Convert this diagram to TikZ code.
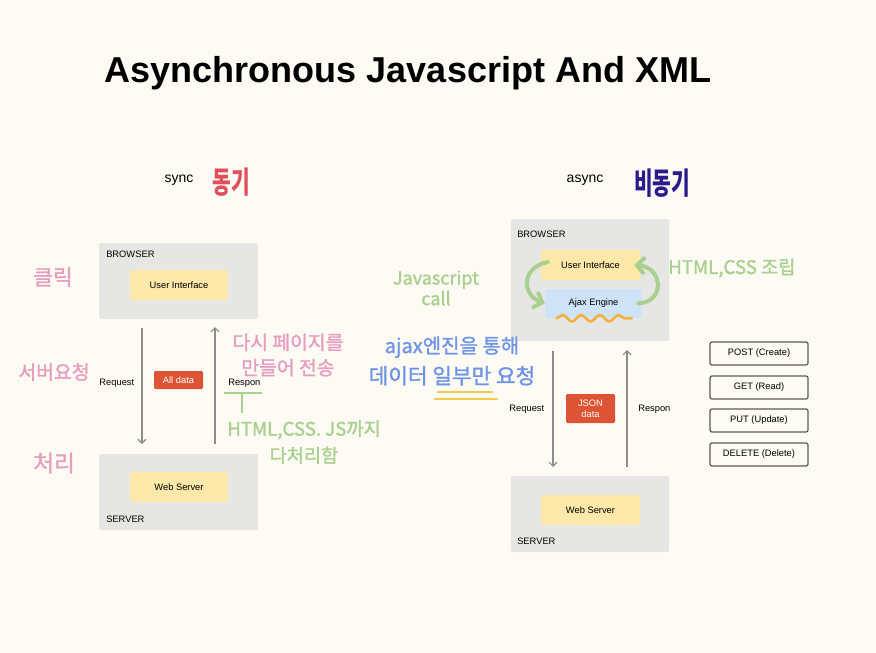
\documentclass[tikz,border=0pt]{standalone}
\usepackage{fontspec}
\setmainfont{Liberation Sans}
\newfontfamily\kr[FakeBold=1.3]{Noto Sans CJK KR}
\newfontfamily\krb{Noto Sans CJK KR}
\usetikzlibrary{arrows.meta,decorations.pathmorphing,calc}
\definecolor{bg}{HTML}{FDFBF3}
\definecolor{boxgray}{HTML}{E6E6E5}
\definecolor{uiyellow}{HTML}{FCE8A8}
\definecolor{ajaxblue}{HTML}{CFE3F7}
\definecolor{datared}{HTML}{DC5434}
\definecolor{arrgray}{HTML}{8C8C8C}
\definecolor{hpink}{HTML}{E69DC0}
\definecolor{hgreen}{HTML}{A9D08E}
\definecolor{hblue}{HTML}{6F94E6}
\definecolor{hred}{HTML}{E0505C}
\definecolor{hindigo}{HTML}{2B1A8C}
\definecolor{horange}{HTML}{F2B23E}
\definecolor{hyellow}{HTML}{F4C94C}
\definecolor{methodline}{HTML}{5A5A5A}
\tikzset{
  graybox/.style={fill=boxgray, rounded corners=1.5pt, inner sep=0pt},
  innerbox/.style={rounded corners=1pt, inner sep=0pt, font=\fontsize{7}{8}\selectfont},
  redbox/.style={fill=datared, text=white, rounded corners=1pt, inner sep=0pt, align=center, font=\fontsize{7}{8.5}\selectfont},
  small/.style={font=\fontsize{7}{8}\selectfont, inner sep=0pt},
  method/.style={draw=methodline, line width=0.9pt, rounded corners=1.5pt, inner sep=0pt, minimum width={98*0.75pt}, minimum height={23*0.75pt}, font=\fontsize{7}{8}\selectfont},
  flow/.style={draw=arrgray, line width=0.8pt, -{Straight Barb[length=3pt,width=6pt]}},
  hand/.style={inner sep=0pt, align=center},
  greenarr/.style={draw=hgreen, line width=3pt, line cap=round, -{Straight Barb[length=5pt,width=11pt,line cap=round]}},
}
\begin{document}
\begin{tikzpicture}[x=0.75pt,y=-0.75pt]
\fill[bg] (0,0) rectangle (876,653);
\useasboundingbox (0,0) rectangle (876,653);

% title
\node[inner sep=0pt, font=\fontsize{27}{30}\selectfont\bfseries] (title) at (408,73) {Asynchronous Javascript And XML};

% ---------- left (sync) ----------
\node[inner sep=0pt, font=\fontsize{10.5}{12}\selectfont] (sync) at (179,180) {sync};
\node[hand, text=hred] (dong) at (231,182) {\scalebox{0.8}[1.2]{\krb\bfseries\fontsize{19}{20}\selectfont 동기}};

\node[graybox, minimum width={159*0.75pt}, minimum height={76*0.75pt}] (lb) at (178.5,281) {};
\node[small, anchor=west] (lbl) at (106,254) {BROWSER};
\node[innerbox, fill=uiyellow, minimum width={98*0.75pt}, minimum height={30*0.75pt}] (lui) at (179,285) {User Interface};

\node[graybox, minimum width={159*0.75pt}, minimum height={76*0.75pt}] (ls) at (178.5,492) {};
\node[innerbox, fill=uiyellow, minimum width={98*0.75pt}, minimum height={30*0.75pt}] (lws) at (179,487) {Web Server};
\node[small, anchor=west] (lsl) at (106,519) {SERVER};

\coordinate (lreqa) at (142,328);
\coordinate (lreqb) at (142,444);
\coordinate (lresa) at (215,444);
\coordinate (lresb) at (215,327);
\draw[flow] (lreqa) -- (lreqb);
\draw[flow] (lresa) -- (lresb);
\node[small, anchor=east] (lreq) at (134.5,383) {Request};
\node[small, anchor=west] (lres) at (228,383) {Respon};
\node[redbox, minimum width={49*0.75pt}, minimum height={18*0.75pt}] (alld) at (178.5,380) {All data};

% handwritten left
\node[hand, text=hpink, font=\kr\fontsize{16}{17}\selectfont] (click) at (53,277) {클릭};
\node[hand, text=hpink, font=\kr\fontsize{14.5}{15}\selectfont] (req) at (54,372) {서버요청};
\node[hand, text=hpink, font=\kr\fontsize{17}{18}\selectfont] (proc) at (54,463) {처리};
\node[hand, text=hpink, font=\kr\fontsize{14.5}{19}\selectfont] (remake) at (288,355) {다시 페이지를\\만들어 전송};
\coordinate (ta) at (224,393);
\coordinate (tb) at (262,393);
\coordinate (tc) at (242,393);
\coordinate (td) at (242,413);
\draw[hgreen, line width=1.8pt] (ta) -- (tb) (tc) -- (td);
\node[hand, text=hgreen, font=\kr\fontsize{14}{20}\selectfont] (allproc) at (304,442) {HTML,CSS. JS까지\\다처리함};

% ---------- right (async) ----------
\node[inner sep=0pt, font=\fontsize{10.5}{12}\selectfont] (async) at (585,180) {async};
\node[hand, text=hindigo] (bidong) at (662,183) {\scalebox{0.8}[1.2]{\krb\bfseries\fontsize{19}{20}\selectfont 비동기}};

\node[graybox, minimum width={158*0.75pt}, minimum height={122*0.75pt}] (rb) at (590,280) {};
\node[small, anchor=west] (rbl) at (517,234) {BROWSER};
\node[innerbox, fill=uiyellow, minimum width={99*0.75pt}, minimum height={30*0.75pt}] (rui) at (590.5,265) {User Interface};
\node[innerbox, fill=ajaxblue, minimum width={97*0.75pt}, minimum height={29*0.75pt}] (ajax) at (593.5,303.5) {Ajax Engine};
\draw[horange, line width=2pt, line cap=round, decorate, decoration={snake, amplitude=2.4pt, segment length=14pt}] (ajax.south west)++(12,0) coordinate (wa) -- ++(75,0) coordinate (wb);

\draw[greenarr] (rui.west) ++(7,-3) .. controls +(-28,6) and +(-22,-8) .. (ajax.west);
\draw[greenarr] (ajax.east) ++(-4,0) .. controls +(28,-2) and +(28,2) .. ($(rui.east)+(-6,0)$);

\node[graybox, minimum width={158*0.75pt}, minimum height={76*0.75pt}] (rs) at (590,514) {};
\node[innerbox, fill=uiyellow, minimum width={99*0.75pt}, minimum height={30*0.75pt}] (rws) at (590.5,510) {Web Server};
\node[small, anchor=west] (rsl) at (517,541) {SERVER};

\coordinate (rreqa) at (553,351);
\coordinate (rreqb) at (553,467);
\coordinate (rresa) at (627,467);
\coordinate (rresb) at (627,350);
\draw[flow] (rreqa) -- (rreqb);
\draw[flow] (rresa) -- (rresb);
\node[small, anchor=east] (rreq) at (544.5,409) {Request};
\node[small, anchor=west] (rres) at (638,409) {Respon};
\node[redbox, minimum width={49*0.75pt}, minimum height={29*0.75pt}] (json) at (590.5,408.5) {JSON\\data};

% handwritten right
\node[hand, text=hgreen, font=\kr\fontsize{13.5}{15.5}\selectfont] (jscall) at (436,288) {Javascript\\call};
\node[hand, text=hgreen, anchor=west, font=\kr\fontsize{14}{15}\selectfont] (assemble) at (668,268) {HTML,CSS 조립};
\node[hand, text=hblue, font=\kr\fontsize{15}{23}\selectfont] (partial) at (452,361) {ajax엔진을 통해\\{\fontsize{16}{23}\selectfont 데이터 일부만 요청}};
\coordinate (ua) at (438,392);
\coordinate (ub) at (492,392);
\coordinate (uc) at (435,399);
\coordinate (ud) at (497,399);
\draw[hyellow, line width=1.8pt, line cap=round] (ua) -- (ub) (uc) -- (ud);

% methods
\node[method] (post) at (759,353.5) {POST (Create)};
\node[method] (get) at (759,387.5) {GET (Read)};
\node[method] (put) at (759,420.5) {PUT (Update)};
\node[method] (del) at (759,454.5) {DELETE (Delete)};
\end{tikzpicture}
\end{document}
